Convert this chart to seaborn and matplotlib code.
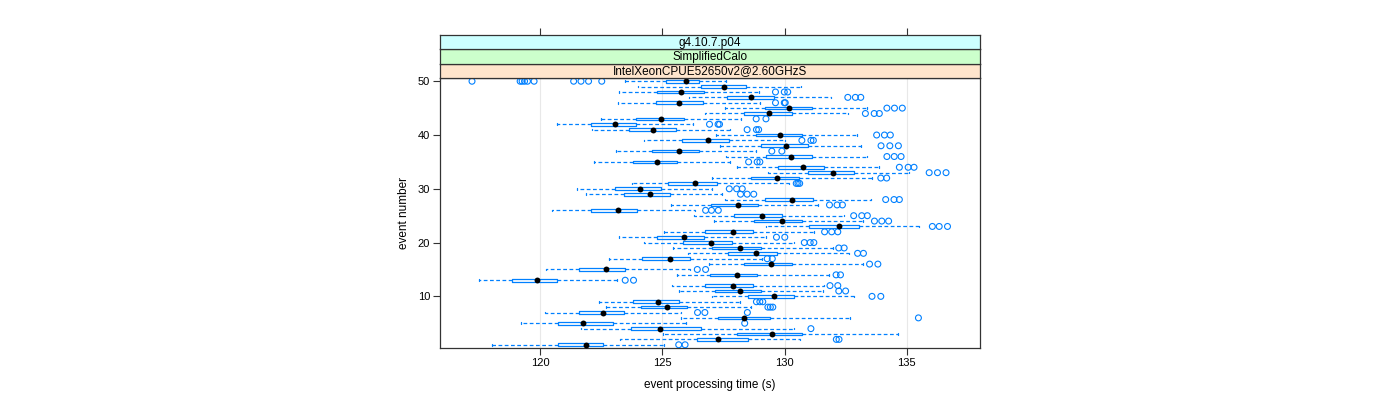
import numpy as np
import pandas as pd
import seaborn as sns
import matplotlib.pyplot as plt

# box statistics per event
events = list(range(1, 51))
whisker_lo = [118.02, 123.26, 125.04, 121.69, 119.22, 125.76, 120.21, 122.69, 122.39, 127.04,
              125.69, 125.40, 117.49, 125.59, 120.25, 126.90, 122.80, 126.03, 125.44, 124.25,
              123.22, 125.08, 129.25, 127.11, 126.29, 120.50, 125.34, 127.56, 121.88, 121.52,
              123.77, 127.03, 129.31, 128.05, 122.22, 127.62, 123.10, 127.37, 124.25, 127.18,
              122.14, 120.67, 122.48, 126.76, 127.58, 123.20, 126.08, 123.24, 124.02, 123.48]
q1 = [120.74, 126.42, 128.06, 123.70, 120.72, 127.27, 121.60, 124.14, 123.81, 128.50,
      127.15, 126.73, 118.84, 126.94, 121.60, 128.33, 124.18, 127.69, 127.04, 125.86,
      124.77, 126.73, 131.01, 128.74, 127.95, 122.10, 126.98, 129.21, 123.44, 123.06,
      125.25, 128.63, 130.98, 129.73, 123.78, 129.25, 124.56, 129.04, 125.79, 128.82,
      123.65, 122.08, 123.94, 128.34, 129.21, 124.72, 127.63, 124.80, 126.59, 125.13]
median = [121.88, 127.29, 129.49, 124.90, 121.74, 128.34, 122.58, 125.18, 124.83, 129.56,
          128.17, 127.88, 119.87, 128.05, 122.71, 129.46, 125.31, 128.85, 128.17, 126.98,
          125.89, 127.90, 132.22, 129.90, 129.07, 123.20, 128.09, 130.30, 124.49, 124.09,
          126.33, 129.69, 132.00, 130.76, 124.77, 130.28, 125.67, 130.06, 126.86, 129.82,
          124.60, 123.05, 124.93, 129.38, 130.20, 125.68, 128.63, 125.76, 127.52, 125.95]
q3 = [122.59, 128.50, 130.72, 126.59, 122.97, 129.41, 123.44, 126.02, 125.68, 130.40,
      129.04, 128.71, 120.67, 128.88, 123.48, 130.31, 126.12, 129.70, 129.04, 127.83,
      126.70, 128.71, 133.03, 130.72, 129.90, 123.95, 128.91, 131.16, 125.30, 124.94,
      127.22, 130.59, 132.86, 131.63, 125.58, 131.13, 126.49, 130.96, 127.71, 130.72,
      125.54, 123.94, 125.89, 130.31, 131.13, 126.66, 129.56, 126.70, 128.41, 126.49]
whisker_hi = [125.08, 130.64, 134.63, 130.37, 125.95, 132.66, 125.76, 128.63, 128.17, 132.86,
              131.59, 131.61, 123.16, 131.83, 126.13, 133.22, 129.07, 132.63, 131.98, 130.40,
              129.25, 131.20, 135.50, 133.22, 132.44, 126.35, 131.39, 133.53, 127.44, 127.03,
              130.20, 133.56, 135.08, 133.85, 127.76, 133.39, 128.85, 133.12, 130.01, 132.96,
              127.76, 126.27, 128.23, 132.58, 133.39, 129.01, 131.91, 128.97, 130.67, 127.59]
outliers = [
    [125.67, 125.93], [132.12, 132.23], [], [131.08], [128.37],
    [135.48], [126.44, 126.74, 128.48], [129.32, 129.42, 129.52], [128.85, 128.99, 129.11], [133.58, 133.94],
    [132.22, 132.50], [131.86, 132.18], [123.48, 123.82], [132.11, 132.29], [126.43, 126.77],
    [133.48, 133.82], [129.29, 129.50], [132.99, 133.23], [132.22, 132.44], [130.81, 131.05, 131.20],
    [129.67, 130.01], [131.64, 131.93, 132.18], [136.05, 136.33, 136.67], [133.68, 133.98, 134.26], [132.83, 133.16, 133.39],
    [126.77, 127.01, 127.29], [131.84, 132.15, 132.37], [134.14, 134.48, 134.70], [128.20, 128.47, 128.74], [127.74, 128.04, 128.27],
    [130.48, 130.55, 130.62], [133.94, 134.18], [135.92, 136.26, 136.61], [134.70, 135.06, 135.30], [128.53, 128.88, 128.99],
    [134.19, 134.49, 134.77], [129.48, 129.89], [133.95, 134.31, 134.66], [130.71, 131.08, 131.18], [133.77, 134.09, 134.33],
    [128.47, 128.85, 128.94], [126.93, 127.28, 127.34], [128.84, 129.24], [133.31, 133.67, 133.88], [134.19, 134.50, 134.82],
    [129.63, 129.99, 130.03], [132.59, 132.90, 133.12], [129.63, 129.99, 130.13], [],
    [117.21, 119.18, 119.26, 119.36, 119.48, 119.75, 121.37, 121.67, 121.98, 122.52],
]
# strips listed from the panel upwards
strip_labels = ["IntelXeonCPUE52650v2@2.60GHzS", "SimplifiedCalo", "g4.10.7.p04"]
strip_colors = ["#ffe5cc", "#ccffcc", "#ccffff"]
x_ticks = [120, 125, 130, 135]
y_ticks = [10, 20, 30, 40, 50]

sns.set_theme(style="white")
plt.rcParams['font.family'] = ['Liberation Sans', 'DejaVu Sans']
plt.rcParams['text.color'] = 'black'
plt.rcParams['axes.labelcolor'] = 'black'
plt.rcParams['xtick.color'] = 'black'
plt.rcParams['ytick.color'] = 'black'

blue = "#0080ff"
fig = plt.figure(figsize=(14, 4), dpi=100)
ax = fig.add_axes([440 / 1400, 1 - 348 / 400, 540 / 1400, 270 / 400])

# vertical reference grid
for v in x_ticks:
    ax.axvline(v, color="#e8e8e8", lw=0.8, zorder=0)

stats = []
for lo, a, m, b, hi in zip(whisker_lo, q1, median, q3, whisker_hi):
    stats.append(dict(whislo=lo, q1=a, med=m, q3=b, whishi=hi, fliers=[]))
ax.bxp(stats, positions=events, widths=0.5, orientation='horizontal', showfliers=False,
       capwidths=0.3, manage_ticks=False,
       boxprops=dict(color=blue, lw=0.9),
       whiskerprops=dict(color=blue, lw=0.9, linestyle=(0, (3, 2))),
       capprops=dict(color=blue, lw=0.9),
       medianprops=dict(lw=0))

med_df = pd.DataFrame({"time": median, "event": events})
sns.scatterplot(data=med_df, x="time", y="event", ax=ax, color="black", s=18,
                edgecolor="black", linewidth=0, zorder=5)

out_df = pd.DataFrame({
    "time": [t for lst in outliers for t in lst],
    "event": [e for e, lst in zip(events, outliers) for _ in lst],
})
sns.scatterplot(data=out_df, x="time", y="event", ax=ax, facecolor="none",
                edgecolor=blue, s=18, linewidth=0.8, zorder=4)

ax.set_xlim(115.9, 138.0)
ax.set_ylim(0.4, 50.6)
ax.set_xticks(x_ticks)
ax.set_yticks(y_ticks)
ax.tick_params(axis="both", which="both", direction="out", length=5, width=0.8,
               labelsize=8, color="#333333", labelcolor="black", pad=2,
               bottom=True, left=True, top=False, right=False)
for sp in ax.spines.values():
    sp.set_color("#333333")
    sp.set_linewidth(0.9)
ax.set_xlabel("event processing time (s)", fontsize=8.5, labelpad=8, color="black")
ax.set_ylabel("event number", fontsize=8.5, labelpad=6, color="black")

# stacked strips above the panel
strip_h = 14.4
for i, (lab, col) in enumerate(zip(strip_labels, strip_colors)):
    bottom_px = 78 - strip_h * i
    sax = fig.add_axes([440 / 1400, 1 - bottom_px / 400, 540 / 1400, strip_h / 400])
    sax.set_facecolor(col)
    sax.set_xlim(115.9, 138.0)
    sax.set_ylim(0, 1)
    sax.set_yticks([])
    for sp in sax.spines.values():
        sp.set_color("#333333")
        sp.set_linewidth(0.9)
    sax.text(0.5, 0.45, lab, transform=sax.transAxes, ha="center", va="center",
             fontsize=8.5, color="black")
    if i == len(strip_labels) - 1:
        sax.set_xticks(x_ticks)
        sax.tick_params(axis="x", top=True, bottom=False, labeltop=False, labelbottom=False,
                        direction="out", length=5, width=0.8, color="#333333")
    else:
        sax.set_xticks([])

fig.savefig("out.png", dpi=100)
